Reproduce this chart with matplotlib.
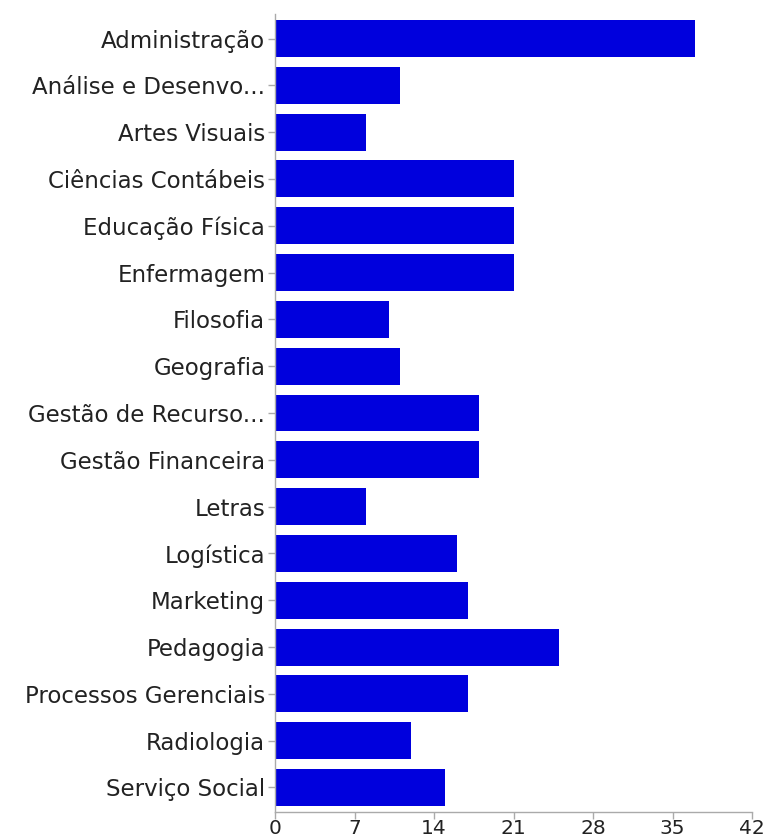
import matplotlib
matplotlib.use("Agg")
import matplotlib.pyplot as plt

categories = [
    "Administração", "Análise e Desenvo...", "Artes Visuais", "Ciências Contábeis",
    "Educação Física", "Enfermagem", "Filosofia", "Geografia",
    "Gestão de Recurso...", "Gestão Financeira", "Letras", "Logística",
    "Marketing", "Pedagogia", "Processos Gerenciais", "Radiologia", "Serviço Social",
]
values = [37, 11, 8, 21, 21, 21, 10, 11, 18, 18, 8, 16, 17, 25, 17, 12, 15]
xticks = [0, 7, 14, 21, 28, 35, 42]

plt.rcParams['font.family'] = ['DejaVu Sans']

fig = plt.figure(figsize=(7.7, 8.39), dpi=100)
ax = fig.add_axes([275 / 770, 27 / 839, (752 - 275) / 770, (812 - 14) / 839])

y = list(range(len(categories)))
ax.barh(y, values, height=0.79, color='#0000DD', edgecolor='none')

ax.set_xlim(0, 42)
ax.set_ylim(len(categories) - 0.475, -0.525)
ax.set_xticks(xticks)
ax.set_xticklabels([str(t) for t in xticks])
ax.set_yticks(y)
ax.set_yticklabels(categories)

for side in ['top', 'right']:
    ax.spines[side].set_visible(False)
for side in ['left', 'bottom']:
    ax.spines[side].set_color('#aaaaaa')
    ax.spines[side].set_linewidth(1.0)

ax.tick_params(axis='both', colors='#aaaaaa', length=5, width=1.0,
               labelcolor='#222222')
ax.tick_params(axis='y', pad=2, labelsize=16.5)
ax.tick_params(axis='x', pad=0, labelsize=14.5)

fig.savefig('out.png', dpi=100)
